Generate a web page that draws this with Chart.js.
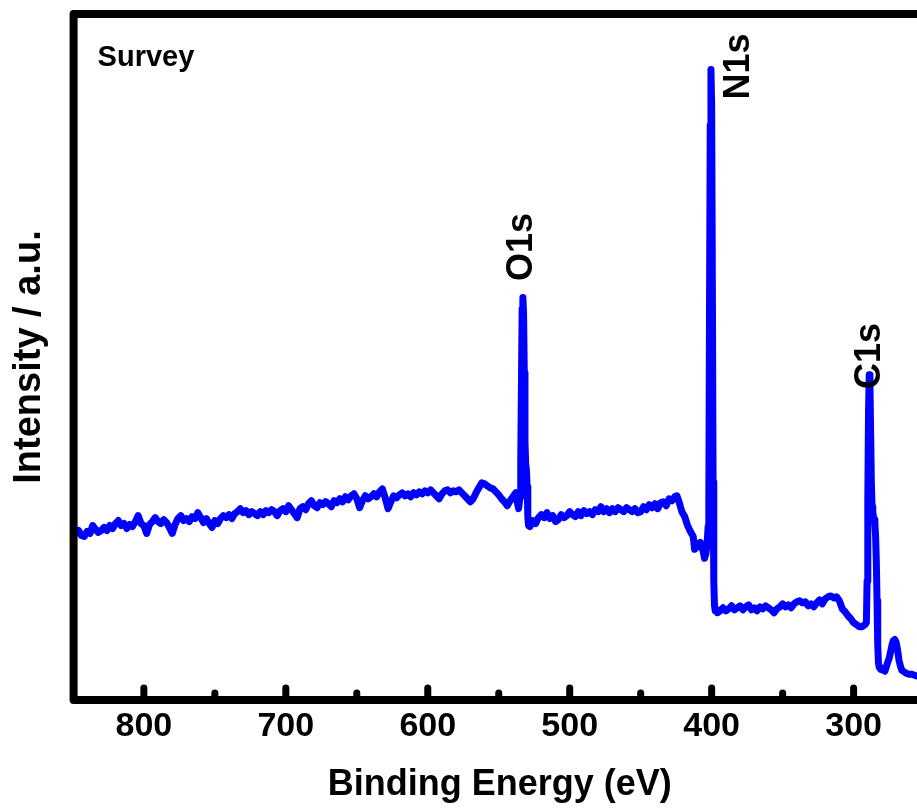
<!DOCTYPE html>
<html lang="en">
<head>
  <meta charset="UTF-8" />
  <title>XPS Survey</title>
  <style>
    body {
      margin: 0;
      background-color: #ffffff;
      overflow: hidden;
    }

    .chart-box {
      width: 940px;
      height: 809px;
      position: relative;
    }
  </style>
</head>
<body>
  <div class="chart-box">
    <canvas id="surveyChart"></canvas>
  </div>

  <script src="https://cdn.jsdelivr.net/npm/chart.js"></script>
  <script>
    // Binding energy (eV), high to low
    const energy = [
      850, 848, 846, 844, 842, 840, 838, 836, 834, 832,
      830, 828, 826, 824, 822, 820, 818, 816, 814, 812,
      810, 808, 806, 804, 802, 800, 798, 796, 794, 792,
      790, 788, 786, 784, 782, 780, 778, 776, 774, 772,
      770, 768, 766, 764, 762, 760, 758, 756, 754, 752,
      750, 748, 746, 744, 742, 740, 738, 736, 734, 732,
      730, 728, 726, 724, 722, 720, 718, 716, 714, 712,
      710, 708, 706, 704, 702, 700, 698, 696, 694, 692,
      690, 688, 686, 684, 682, 680, 678, 676, 674, 672,
      670, 668, 666, 664, 662, 660, 658, 656, 654, 652,
      650, 648, 646, 644, 642, 640, 638, 636, 634, 632,
      630, 628, 626, 624, 622, 620, 618, 616, 614, 612,
      610, 608, 606, 604, 602, 600, 598, 596, 594, 592,
      590, 588, 586, 584, 582, 580, 578, 576, 574, 572,
      570, 568, 566, 564, 562, 560, 558, 556, 554, 552,
      550, 548, 546, 544, 542, 540, 538, 537, 536, 535,
      534.5, 534, 533.5, 533, 532.5, 532, 531.5, 531, 530.5, 530,
      529.5, 529, 528, 526, 524, 522, 520, 518, 516, 514,
      512, 510, 508, 506, 504, 502, 500, 498, 496, 494,
      492, 490, 488, 486, 484, 482, 480, 478, 476, 474,
      472, 470, 468, 466, 464, 462, 460, 458, 456, 454,
      452, 450, 448, 446, 444, 442, 440, 438, 436, 434,
      432, 430, 428, 426, 424.5, 423, 421, 419, 417, 415,
      413, 412, 410, 408, 406, 405, 404, 403, 402.5, 402,
      401.5, 401, 400.5, 400, 399.5, 399, 398.5, 398, 397.5, 397,
      396, 394, 392, 390, 388, 386, 384, 382, 380, 378,
      376, 374, 372, 370, 368, 366, 364, 362, 360, 358,
      356, 354, 352, 350, 348, 346, 344, 342, 340, 338,
      336, 334, 332, 330, 328, 326, 324, 322, 320, 318,
      316, 314, 312, 310, 308, 306, 304, 302, 300, 298,
      296, 294, 292, 291, 290.5, 290, 289.5, 289, 288.5, 288,
      287.5, 287, 286.5, 286, 285.5, 285, 284.5, 284, 283.5, 283,
      282.5, 282, 281, 280, 279, 278, 277, 276, 275, 274,
      273, 272, 271, 270, 269, 268, 267, 266, 265, 263,
      261, 259, 257, 255, 253, 251, 249
    ];

    // Intensity (a.u.), same order as energy
    const intensity = [
      172, 169, 171, 166, 165, 170, 168, 176, 172, 169,
      171, 174, 171, 176, 173, 178, 181, 176, 178, 173,
      177, 175, 180, 186, 178, 176, 168, 177, 180, 184,
      180, 178, 182, 179, 174, 168, 177, 183, 186, 181,
      183, 180, 185, 183, 189, 184, 179, 183, 178, 174,
      181, 178, 183, 186, 184, 187, 183, 188, 190, 193,
      189, 191, 187, 190, 188, 186, 190, 187, 191, 189,
      192, 190, 186, 191, 193, 190, 196, 192, 188, 184,
      193, 195, 192, 198, 201, 196, 194, 199, 197, 200,
      198, 195, 201, 199, 203, 200, 205, 202, 206, 208,
      203, 194, 201, 206, 203, 205, 208, 205, 210, 213,
      204, 193, 200, 206, 204, 207, 209, 206, 208, 205,
      209, 207, 210, 208, 211, 209, 212, 209, 206, 203,
      208, 211, 212, 209, 211, 210, 212, 209, 206, 203,
      200, 203, 209, 214, 219, 218, 216, 214, 213, 210,
      207, 203, 200, 196, 201, 205, 209, 200, 193, 205,
      240, 320, 395, 406, 390, 330, 260, 238, 232, 215,
      185, 176, 175, 181, 178, 184, 187, 184, 189, 183,
      186, 180, 182, 187, 184, 186, 190, 187, 185, 190,
      186, 191, 188, 190, 187, 192, 190, 195, 190, 193,
      189, 193, 190, 194, 192, 190, 194, 192, 190, 193,
      189, 190, 195, 192, 197, 194, 198, 193, 199, 200,
      196, 203, 201, 205, 206, 200, 190, 185, 176, 170,
      165, 152, 155, 159, 150, 143, 148, 162, 175, 200,
      400, 580, 636, 600, 420, 220, 120, 95, 90, 92,
      88, 90, 93, 90, 92, 95, 91, 93, 95, 91,
      94, 96, 91, 93, 90, 94, 92, 95, 93, 91,
      88, 92, 94, 97, 94, 96, 93, 97, 99, 100,
      98, 99, 95, 97, 94, 98, 101, 97, 102, 104,
      105, 103, 104, 100, 92, 89, 85, 82, 78, 76,
      74, 74, 76, 78, 120, 200, 290, 328, 320, 270,
      220, 195, 190, 185, 182, 178, 165, 140, 100, 55,
      38, 33, 31, 32, 30, 29, 33, 38, 42, 48,
      55, 60, 61, 58, 50, 40, 34, 30, 29, 27,
      26, 26, 25, 24, 24, 25, 24
    ];

    const tickValues = [800, 750, 700, 650, 600, 550, 500, 450, 400, 350, 300];

    const peakLabels = ['O1s', 'N1s', 'C1s'];
    const peakLabelEnergy = [533.7, 380.8, 288.5];
    const peakLabelIntensity = [457, 639, 347];

    const fontFamily = "'Liberation Sans', Arial, sans-serif";

    // thick frame, inward ticks and the text inside the plot
    const framePlugin = {
      id: 'frame',
      afterDraw(chart) {
        const { ctx, chartArea, scales } = chart;
        const xs = scales.x;
        const ys = scales.y;
        ctx.save();
        ctx.strokeStyle = '#000';
        ctx.lineWidth = 8;
        ctx.lineJoin = 'round';
        ctx.strokeRect(chartArea.left, chartArea.top,
          chartArea.right - chartArea.left, chartArea.bottom - chartArea.top);

        ctx.lineCap = 'round';
        ctx.lineWidth = 7;
        tickValues.forEach(v => {
          const x = xs.getPixelForValue(v);
          const len = v % 100 === 0 ? 12 : 7;
          ctx.beginPath();
          ctx.moveTo(x, chartArea.bottom);
          ctx.lineTo(x, chartArea.bottom - len);
          ctx.stroke();
        });

        ctx.fillStyle = '#000';
        ctx.font = 'bold 29px ' + fontFamily;
        ctx.textAlign = 'left';
        ctx.textBaseline = 'middle';
        ctx.fillText('Survey', chartArea.left + 24, chartArea.top + 44);

        ctx.font = 'bold 36px ' + fontFamily;
        ctx.textAlign = 'center';
        peakLabels.forEach((label, i) => {
          const px = xs.getPixelForValue(peakLabelEnergy[i]);
          const py = ys.getPixelForValue(peakLabelIntensity[i]);
          ctx.save();
          ctx.translate(px, py);
          ctx.rotate(-Math.PI / 2);
          ctx.fillText(label, 0, 0);
          ctx.restore();
        });
        ctx.restore();
      }
    };

    const ctx = document.getElementById('surveyChart').getContext('2d');
    new Chart(ctx, {
      type: 'line',
      data: {
        datasets: [{
          data: energy.map((e, i) => ({ x: e, y: intensity[i] })),
          borderColor: '#0000ff',
          borderWidth: 7,
          borderJoinStyle: 'round',
          borderCapStyle: 'round',
          pointRadius: 0,
          tension: 0,
          fill: false
        }]
      },
      options: {
        responsive: true,
        maintainAspectRatio: false,
        animation: false,
        devicePixelRatio: 1,
        layout: {
          padding: { left: 7, top: 14, right: 14, bottom: 0 }
        },
        plugins: {
          legend: { display: false },
          tooltip: { enabled: false }
        },
        scales: {
          x: {
            type: 'linear',
            reverse: true,
            min: 249,
            max: 849.5,
            afterBuildTicks: (axis) => {
              axis.ticks = tickValues.map(v => ({ value: v }));
            },
            grid: { display: false, drawTicks: false },
            border: { display: false },
            ticks: {
              autoSkip: false,
              maxRotation: 0,
              padding: 6,
              color: '#000',
              font: { family: fontFamily, size: 34, weight: 'bold' },
              callback: (v) => (v % 100 === 0 ? v : '')
            },
            title: {
              display: true,
              text: 'Binding Energy (eV)',
              color: '#000',
              padding: { top: 11, bottom: 2 },
              font: { family: fontFamily, size: 36, weight: 'bold' }
            }
          },
          y: {
            min: 0,
            max: 692,
            grid: { display: false, drawTicks: false },
            border: { display: false },
            ticks: { display: false },
            title: {
              display: true,
              text: 'Intensity / a.u.',
              color: '#000',
              padding: { top: 0, bottom: 21 },
              font: { family: fontFamily, size: 38, weight: 'bold' }
            }
          }
        }
      },
      plugins: [framePlugin]
    });
  </script>
</body>
</html>
